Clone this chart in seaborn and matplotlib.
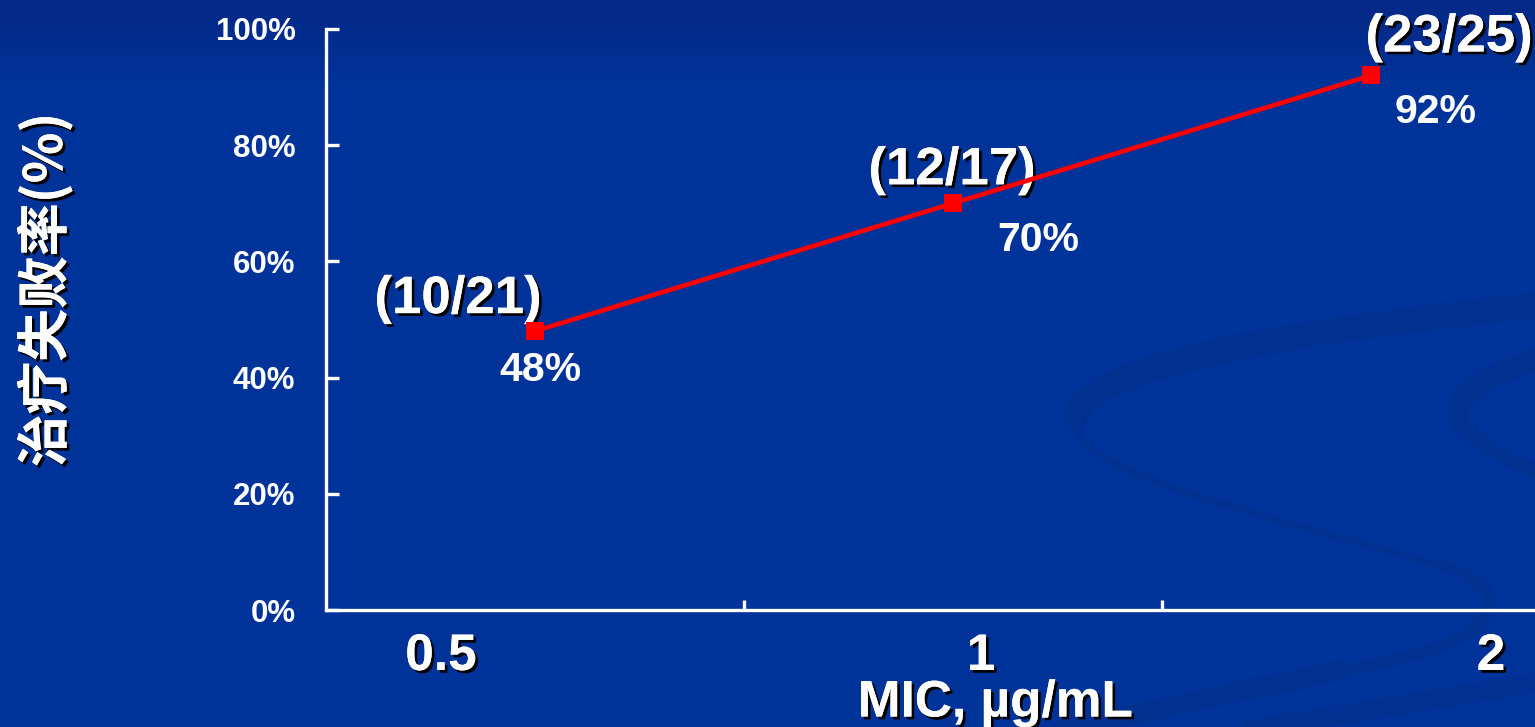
import numpy as np
import pandas as pd
import matplotlib
matplotlib.use("Agg")
import matplotlib.pyplot as plt
import matplotlib.patheffects as pe
from matplotlib.path import Path
from matplotlib.patches import PathPatch
from matplotlib.ticker import FuncFormatter, FixedLocator
import seaborn as sns

# --- data ---
mic_labels = ["0.5", "1", "2"]
failure_rate = [48, 70, 92]
fractions = ["(10/21)", "(12/17)", "(23/25)"]
pct_labels = ["48%", "70%", "92%"]
y_ticks = [0, 20, 40, 60, 80, 100]

sns.set_theme(style="white")
plt.rcParams["font.family"] = ["Liberation Sans", "DejaVu Sans"]

W, H = 1535, 727
fig = plt.figure(figsize=(W / 100, H / 100), dpi=100)

# background gradient
bg = fig.add_axes([0, 0, 1, 1], zorder=-10)
top = np.array([5, 40, 135]) / 255
mid = np.array([0, 51, 153]) / 255
t = np.clip(np.linspace(0, 1, H) / 0.12, 0, 1)[:, None]
grad = top * (1 - t) + mid * t
img = np.repeat(grad[:, None, :], 4, axis=1)
bg.imshow(img, aspect="auto", extent=[0, W, H, 0])
bg.set_xlim(0, W)
bg.set_ylim(H, 0)
bg.axis("off")

# decorative swooshes
swoosh = "#003190"
def curve(pts, lw, color=swoosh, alpha=1.0):
    codes = [Path.MOVETO] + [Path.CURVE4] * (len(pts) - 1)
    bg.add_patch(PathPatch(Path(pts, codes), fill=False, lw=lw, ec=color,
                           alpha=alpha, capstyle="round"))

curve([(1540, 305), (1300, 330), (1085, 365), (1075, 418)], 18)
curve([(1075, 418), (1070, 465), (1200, 500), (1444, 566)], 5)
curve([(1444, 566), (1525, 592), (1505, 645), (1341, 670)], 8)
curve([(1341, 670), (1250, 690), (1150, 710), (1060, 730)], 14)
curve([(1540, 358), (1480, 378), (1452, 398), (1460, 420)], 16)
curve([(1460, 420), (1472, 442), (1510, 462), (1540, 472)], 10)
curve([(1250, 730), (1400, 705), (1480, 692), (1540, 682)], 14)

# main axes
left_px, right_px = 326, W
bottom_px, top_px = 610, 29
ax = fig.add_axes([left_px / W, (H - bottom_px) / H,
                   (right_px - left_px) / W, (bottom_px - top_px) / H])
ax.patch.set_alpha(0)

df = pd.DataFrame({"pos": np.arange(len(mic_labels)), "rate": failure_rate})
sns.lineplot(data=df, x="pos", y="rate", ax=ax, color="#ff0000", lw=3.4,
             marker="s", markersize=13, markeredgecolor="#ff0000",
             markeredgewidth=0, zorder=5, clip_on=False)

unit = 418.0
ax.set_xlim(-0.5, -0.5 + (right_px - left_px) / unit)
ax.set_ylim(0, 100)

for s in ["top", "right"]:
    ax.spines[s].set_visible(False)
for s in ["left", "bottom"]:
    ax.spines[s].set_color("white")
    ax.spines[s].set_linewidth(2.4)

ax.yaxis.set_major_locator(FixedLocator(y_ticks))
ax.yaxis.set_major_formatter(FuncFormatter(lambda v, p: f"{v:.0f}%"))
ax.tick_params(axis="y", direction="in", length=9, width=2.4, color="white",
               labelcolor="white", labelsize=22.5, pad=22, left=True)
for lab in ax.get_yticklabels():
    lab.set_fontweight("bold")

ax.set_xticks([0.5, 1.5])
ax.set_xticklabels([])
ax.tick_params(axis="x", direction="in", length=7, width=2.4, color="white",
               bottom=True)
ax.set_xlabel("")
ax.set_ylabel("")

shadow = [pe.withSimplePatchShadow(offset=(2, -2), shadow_rgbFace="black",
                                   alpha=1.0), pe.Normal()]
narrow = ["Liberation Sans Narrow", "Liberation Sans", "DejaVu Sans"]

# category labels below the axis
cat_dx = [-0.225, 0.067, 0.287]
for i, (lab, dx) in enumerate(zip(mic_labels, cat_dx)):
    ax.text(i + dx, -0.080, lab, transform=ax.get_xaxis_transform(),
            ha="center", va="center", color="white", fontsize=37,
            fontweight="bold", family=narrow, path_effects=shadow, clip_on=False)

fig.text(995 / W, 1 - 703 / H, "MIC, µg/mL", ha="center", va="center",
         color="white", fontsize=37, fontweight="bold", family=narrow,
         path_effects=shadow)

fig.text(45 / W, 1 - 290 / H, "治疗失败率(%)", rotation=90, ha="center",
         va="center", color="white", fontsize=38, fontweight="bold",
         family=["Noto Sans CJK SC", "DejaVu Sans"], path_effects=shadow)

# point annotations
frac_off = [(-77, 32), (-1, 33), (78, 38)]
pct_off = [(5, -39), (85, -37), (65, -37)]
for i, (v, fr, pl) in enumerate(zip(failure_rate, fractions, pct_labels)):
    ax.annotate(fr, (i, v), xytext=frac_off[i], textcoords="offset pixels",
                ha="center", va="center", color="white", fontsize=38,
                fontweight="bold", family=narrow, path_effects=shadow,
                annotation_clip=False)
    ax.annotate(pl, (i, v), xytext=pct_off[i], textcoords="offset pixels",
                ha="center", va="center", color="white", fontsize=29.5,
                fontweight="bold", annotation_clip=False)

fig.savefig("out.png", dpi=100)
